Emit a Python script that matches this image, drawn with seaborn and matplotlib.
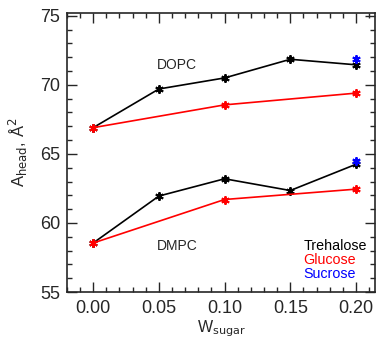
import numpy as np
import pandas as pd
import matplotlib
matplotlib.use("Agg")
import matplotlib.pyplot as plt
import seaborn as sns
from matplotlib.ticker import MultipleLocator

# sugar weight fraction
w_all = [0.00, 0.05, 0.10, 0.15, 0.20]
w_glu = [0.00, 0.10, 0.20]
w_suc = [0.20]

# area per headgroup, A^2
dopc_tre = [66.9, 69.7, 70.5, 71.85, 71.45]
dopc_glu = [66.9, 68.55, 69.4]
dopc_suc = [71.9]
dmpc_tre = [58.55, 61.95, 63.2, 62.35, 64.25]
dmpc_glu = [58.55, 61.7, 62.45]
dmpc_suc = [64.5]

sns.set_style("ticks")
plt.rcParams['font.family'] = ['Liberation Sans', 'DejaVu Sans']

fig = plt.figure(figsize=(3.8, 3.42), dpi=100)
ax = fig.add_axes([0.176, 0.146, 0.811, 0.816])

mk = dict(marker=(6, 2, 0), markersize=6, markeredgewidth=1.4)

for x, y, c in [(w_all, dopc_tre, 'black'), (w_glu, dopc_glu, 'red'),
                (w_all, dmpc_tre, 'black'), (w_glu, dmpc_glu, 'red')]:
    df = pd.DataFrame({'w': x, 'a': y})
    sns.lineplot(data=df, x='w', y='a', color=c, lw=1.2, ax=ax,
                 markeredgecolor=c, **mk)

for y in [dopc_suc, dmpc_suc]:
    df = pd.DataFrame({'w': w_suc, 'a': y})
    sns.lineplot(data=df, x='w', y='a', color='blue', lw=0, ax=ax,
                 markeredgecolor='blue', **mk)

ax.set_xlim(-0.02, 0.2145)
ax.set_ylim(55, 75.2)
ax.xaxis.set_major_locator(MultipleLocator(0.05))
ax.xaxis.set_minor_locator(MultipleLocator(0.01))
ax.yaxis.set_major_locator(MultipleLocator(5))
ax.yaxis.set_minor_locator(MultipleLocator(1))
ax.xaxis.set_major_formatter(matplotlib.ticker.FormatStrFormatter('%.2f'))
ax.tick_params(which='both', direction='in', top=True, right=True, width=1.0)
ax.tick_params(which='major', length=7, labelsize=13, pad=6)
ax.tick_params(axis='y', which='major', pad=5)
ax.tick_params(which='minor', length=3.5)
for s in ax.spines.values():
    s.set_linewidth(1.2)

ax.set_xlabel(r'W$_{\rm sugar}$', fontsize=11.5, labelpad=1)
ax.set_ylabel(r'A$_{\rm head}$, Å$^2$', fontsize=12, labelpad=7)

ax.text(0.064, 71.4, 'DOPC', fontsize=10, ha='center', va='center')
ax.text(0.064, 58.3, 'DMPC', fontsize=10, ha='center', va='center')
ax.text(0.16, 58.3, 'Trehalose', fontsize=10.3, color='black', va='center')
ax.text(0.16, 57.3, 'Glucose', fontsize=10.3, color='red', va='center')
ax.text(0.16, 56.3, 'Sucrose', fontsize=10.3, color='blue', va='center')

fig.savefig('out.png', dpi=100)
